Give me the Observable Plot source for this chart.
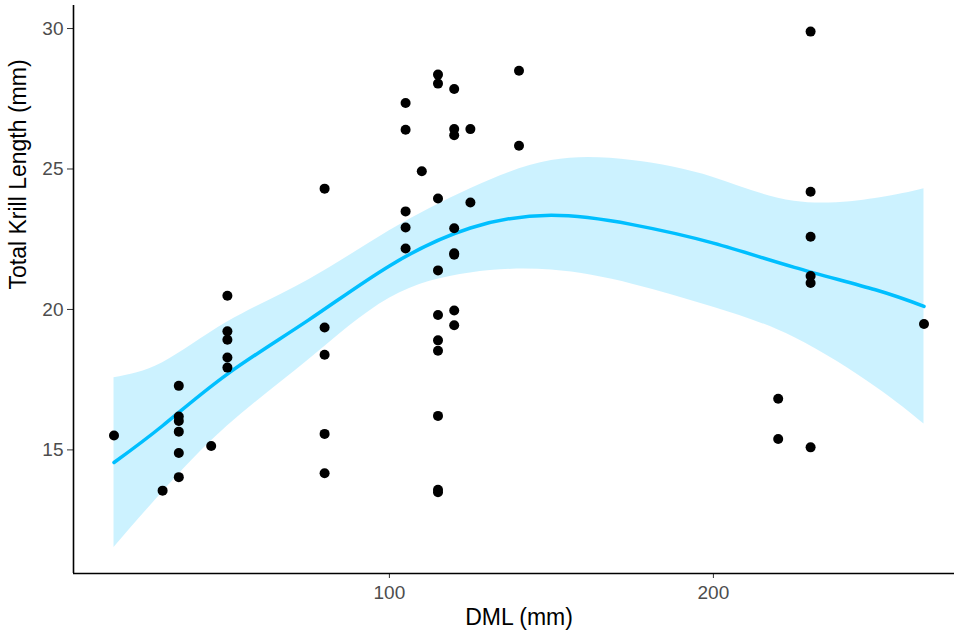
<!DOCTYPE html>
<html>
<head>
<meta charset="utf-8">
<script src="https://cdn.jsdelivr.net/npm/d3@7"></script>
<script src="https://cdn.jsdelivr.net/npm/@observablehq/plot@0.6"></script>
<style>
  html, body { margin: 0; padding: 0; background: white; }
  #chart svg { display: block; }
</style>
</head>
<body>
<div id="chart"></div>
<script>
// Observations: DML (mm) and Total Krill Length (mm)
const dml = [
  15, 30,
  35, 35, 35, 35, 35, 35,
  45,
  50, 50, 50, 50, 50,
  80, 80, 80, 80, 80,
  105, 105, 105, 105, 105,
  110,
  115, 115, 115, 115, 115, 115, 115, 115, 115, 115,
  120, 120, 120, 120, 120, 120, 120, 120,
  125, 125,
  140, 140,
  220, 220,
  230, 230, 230, 230, 230, 230,
  265
];
const krill = [
  15.51, 13.55,
  17.28, 16.19, 16.03, 15.65, 14.89, 14.03,
  15.14,
  20.49, 19.22, 18.92, 18.29, 17.93,
  24.30, 19.36, 18.39, 15.57, 14.17,
  27.35, 26.40, 23.49, 22.92, 22.17,
  24.92,
  28.36, 28.04, 23.95, 21.39, 19.80, 18.90, 18.53, 16.21, 13.58, 13.49,
  27.85, 26.42, 26.20, 22.89, 22.00, 21.95, 19.96, 19.44,
  26.42, 23.81,
  28.50, 25.83,
  16.82, 15.39,
  29.89, 24.19, 22.59, 21.19, 20.94, 15.09,
  19.48
];

// Smoothed fit (loess) with confidence band
const fitX     = [15,    30,    50,    75,    100,   125,   150,   175,   200,   225,   250,   265];
const fitY     = [14.55, 15.86, 17.70, 19.62, 21.55, 22.90, 23.35, 23.02, 22.36, 21.50, 20.70, 20.11];
const fitUpper = [17.57, 18.10, 19.55, 21.05, 22.80, 24.30, 25.30, 25.30, 24.70, 23.85, 23.95, 24.30];
const fitLower = [11.53, 13.50, 15.85, 18.20, 20.40, 21.30, 21.40, 20.90, 20.08, 19.00, 17.25, 15.92];

const xTicks = [100, 200];
const yTicks = [15, 20, 25, 30];
const xDomain = [2.5, 277.5];
const yDomain = [10.6, 30.82];

const points = dml.map((d, i) => ({x: d, y: krill[i]}));
const band = fitX.map((d, i) => ({x: d, y: fitY[i], lo: fitLower[i], hi: fitUpper[i]}));

const chart = Plot.plot({
  width: 954,
  height: 637,
  marginLeft: 73,
  marginRight: -10,
  marginTop: 5,
  marginBottom: 64,
  style: {fontFamily: "'Liberation Sans', Arial, Helvetica, sans-serif", background: "white"},
  x: {domain: xDomain},
  y: {domain: yDomain},
  marks: [
    Plot.areaY(band, {x: "x", y1: "lo", y2: "hi", fill: "#00BFFF", fillOpacity: 0.2, curve: "natural"}),
    Plot.line(band, {x: "x", y: "y", stroke: "#00BFFF", strokeWidth: 3.5, curve: "natural"}),
    Plot.dot(points, {x: "x", y: "y", r: 5, fill: "black", stroke: "none"}),
    Plot.axisX({ticks: xTicks, tickSize: 5, tickPadding: 7, fontSize: 19, stroke: "#333333", fill: "#4D4D4D", label: null}),
    Plot.axisY({ticks: yTicks, tickSize: 6, tickPadding: 4, fontSize: 19, stroke: "#333333", fill: "#4D4D4D", label: null}),
    Plot.ruleX([xDomain[0]], {stroke: "black", strokeWidth: 1.6}),
    Plot.ruleY([yDomain[0]], {stroke: "black", strokeWidth: 1.6}),
    Plot.text(["DML (mm)"], {frameAnchor: "bottom", lineAnchor: "middle", dy: 44, fontSize: 23, fill: "black"}),
    Plot.text(["Total Krill Length (mm)"], {frameAnchor: "left", lineAnchor: "middle", rotate: -90, dx: -55, fontSize: 23, fill: "black"})
  ]
});
document.getElementById("chart").appendChild(chart);
</script>
</body>
</html>
